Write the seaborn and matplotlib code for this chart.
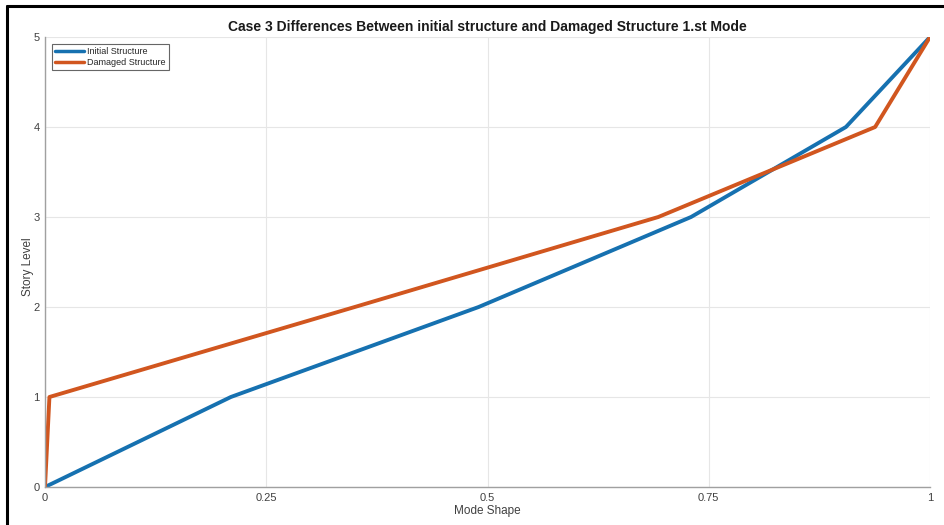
import matplotlib
matplotlib.use("Agg")
import matplotlib.pyplot as plt
from matplotlib.lines import Line2D
import seaborn as sns
import pandas as pd

# Story levels and first mode shape values
levels = [0, 1, 2, 3, 4, 5]
initial_mode = [0.0, 0.21, 0.49, 0.73, 0.905, 1.0]
damaged_mode = [0.0, 0.005, 0.35, 0.693, 0.938, 1.0]
series_names = ["Initial Structure", "Damaged Structure"]
x_ticks = [0, 0.25, 0.5, 0.75, 1]
x_tick_labels = ["0", "0.25", "0.5", "0.75", "1"]
y_ticks = [0, 1, 2, 3, 4, 5]

df = pd.concat([
    pd.DataFrame({"Mode Shape": initial_mode, "Story Level": levels, "Series": series_names[0]}),
    pd.DataFrame({"Mode Shape": damaged_mode, "Story Level": levels, "Series": series_names[1]}),
], ignore_index=True)

sns.set_theme(style="white")
plt.rcParams["font.family"] = ["Liberation Sans", "DejaVu Sans"]

W, H = 944, 525
fig = plt.figure(figsize=(W / 100, H / 100), dpi=100)
ax = fig.add_axes([45 / W, 1 - 487 / H, (930 - 45) / W, (487 - 37) / H])

palette = {series_names[0]: "#1671b0", series_names[1]: "#d1561f"}
sns.lineplot(data=df, x="Mode Shape", y="Story Level", hue="Series", palette=palette,
             sort=False, estimator=None, linewidth=2.8, ax=ax, legend=False)

ax.set_xlim(0, 1)
ax.set_ylim(0, 5)
ax.set_xticks(x_ticks)
ax.set_xticklabels(x_tick_labels)
ax.set_yticks(y_ticks)
ax.grid(True, color="#e6e6e6", linewidth=0.8)
ax.set_axisbelow(True)
for side in ["top", "right"]:
    ax.spines[side].set_visible(False)
for side in ["left", "bottom"]:
    ax.spines[side].set_color("#a0a0a0")
    ax.spines[side].set_linewidth(1.0)
ax.tick_params(axis="both", direction="in", length=4, width=0.8, color="#a0a0a0",
               labelsize=8, labelcolor="#404040", pad=4)

ax.set_xlabel("Mode Shape", fontsize=8.5, color="#404040", labelpad=2)
ax.set_ylabel("Story Level", fontsize=8.5, color="#404040")
ax.yaxis.set_label_coords(-0.0125, 0.49)
ax.set_title("Case 3 Differences Between initial structure and Damaged Structure 1.st Mode",
             fontsize=10, fontweight="bold", color="#1a1a1a", pad=4)

handles = [Line2D([], [], color=palette[n], linewidth=2.5) for n in series_names]
leg = ax.legend(handles, series_names, loc="upper left", bbox_to_anchor=(0.005, 0.99),
                fontsize=6.5, frameon=True, fancybox=False, handlelength=3.2,
                handletextpad=0.3, borderpad=0.35, labelspacing=0.2, borderaxespad=0.3)
leg.get_frame().set_edgecolor("#404040")
leg.get_frame().set_linewidth(0.8)

# Outer frame lines of the figure window
fig.add_artist(Line2D([7 / W, 7 / W], [0, 1 - 6 / H], color="black", linewidth=2.2))
fig.add_artist(Line2D([7 / W, 1], [1 - 6 / H, 1 - 6 / H], color="black", linewidth=2.2))

fig.savefig("out.png", dpi=100)
